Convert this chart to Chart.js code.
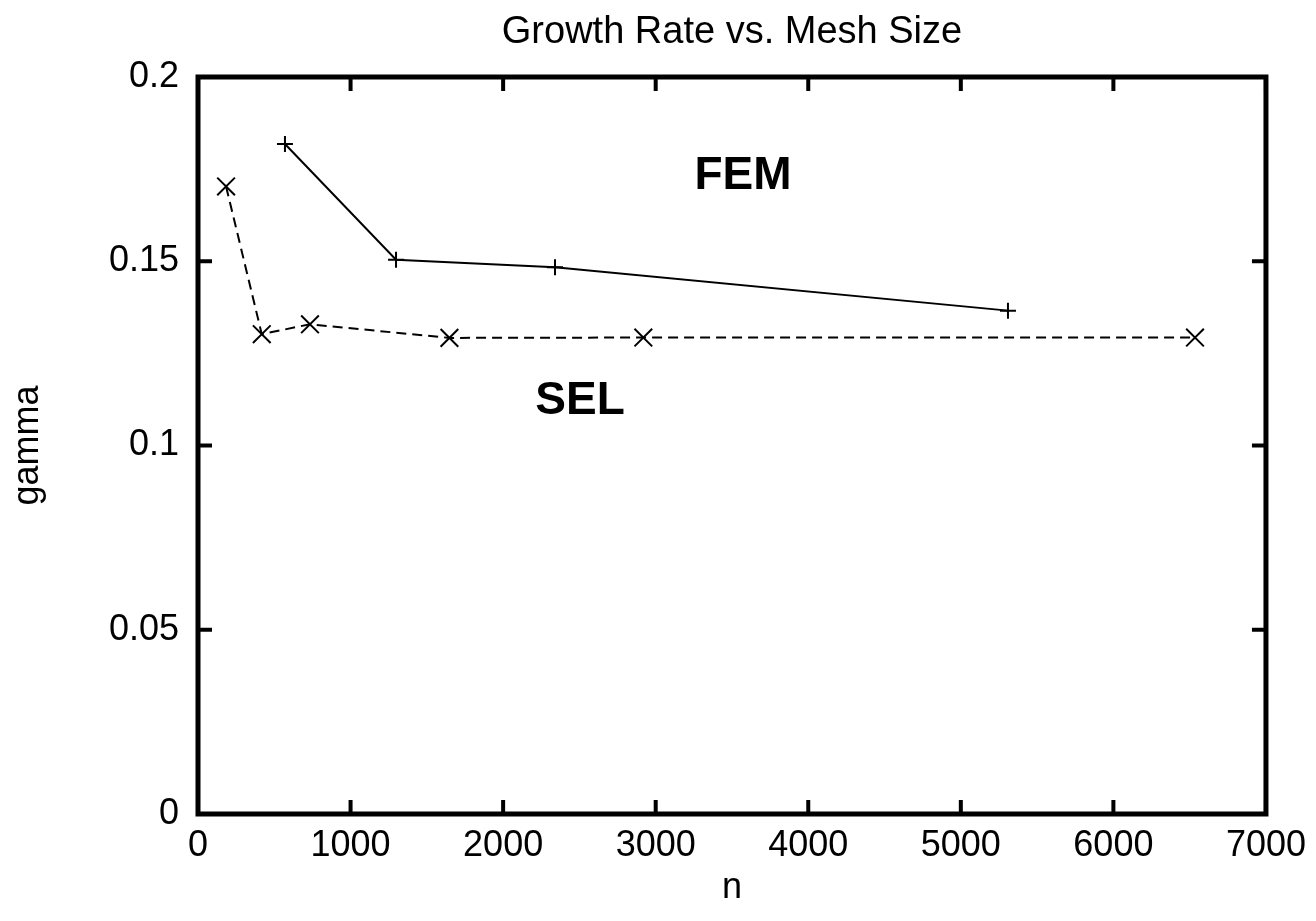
<!DOCTYPE html>
<html>
<head>
<meta charset="utf-8">
<title>Growth Rate vs. Mesh Size</title>
<script src="https://cdn.jsdelivr.net/npm/chart.js@4/dist/chart.umd.min.js"></script>
<style>
  html, body { margin: 0; padding: 0; background: #fff; }
  #wrap { width: 1316px; height: 921px; }
</style>
</head>
<body>
<div id="wrap"><canvas id="chart"></canvas></div>
<script>
// data
const femN = [570, 1298, 2340, 5309];
const femGamma = [0.1818, 0.1504, 0.1484, 0.1366];
const selN = [184, 418, 734, 1648, 2919, 6535];
const selGamma = [0.1703, 0.1302, 0.1329, 0.1292, 0.1293, 0.1293];
const xTicks = [0, 1000, 2000, 3000, 4000, 5000, 6000, 7000];
const yTicks = [0, 0.05, 0.1, 0.15, 0.2];
// text labels placed in data coordinates
const labels = [
  { text: "FEM", n: 3572, g: 0.1733 },
  { text: "SEL", n: 2504, g: 0.1122 }
];
const titleText = 'Growth Rate vs. Mesh Size';

const FONT = "'Liberation Sans', Arial, sans-serif";
const toPts = (xs, ys) => xs.map((x, i) => ({ x: x, y: ys[i] }));

// frame with inward ticks on all four sides, the title (centred on the plot) and the text labels
const framePlugin = {
  id: 'frame',
  afterDatasetsDraw(chart) {
    const ctx = chart.ctx;
    const a = chart.chartArea;
    const xs = chart.scales.x, ys = chart.scales.y;
    ctx.save();
    ctx.strokeStyle = '#000';
    ctx.lineWidth = 4;
    const tl = 14;
    xTicks.forEach(v => {
      const px = xs.getPixelForValue(v);
      ctx.beginPath();
      ctx.moveTo(px, a.bottom); ctx.lineTo(px, a.bottom - tl);
      ctx.moveTo(px, a.top); ctx.lineTo(px, a.top + tl);
      ctx.stroke();
    });
    yTicks.forEach(v => {
      const py = ys.getPixelForValue(v);
      ctx.beginPath();
      ctx.moveTo(a.left, py); ctx.lineTo(a.left + tl, py);
      ctx.moveTo(a.right, py); ctx.lineTo(a.right - tl, py);
      ctx.stroke();
    });
    ctx.lineWidth = 5;
    ctx.strokeRect(a.left, a.top, a.right - a.left, a.bottom - a.top);

    ctx.fillStyle = '#000';
    ctx.textAlign = 'center';
    ctx.textBaseline = 'middle';
    ctx.font = "38px " + FONT;
    ctx.fillText(titleText, (a.left + a.right) / 2, 33);

    ctx.font = "bold 46px " + FONT;
    labels.forEach(l => {
      ctx.fillText(l.text, xs.getPixelForValue(l.n), ys.getPixelForValue(l.g) + 1);
    });
    ctx.restore();
  }
};

new Chart(document.getElementById("chart"), {
  type: 'scatter',
  data: {
    datasets: [
      {
        label: 'FEM',
        data: toPts(femN, femGamma),
        showLine: true,
        borderColor: '#000',
        backgroundColor: '#000',
        borderWidth: 2,
        pointStyle: 'cross',
        pointRadius: 8,
        pointBorderWidth: 2,
        pointHoverRadius: 8
      },
      {
        label: 'SEL',
        data: toPts(selN, selGamma),
        showLine: true,
        borderColor: '#000',
        backgroundColor: '#000',
        borderWidth: 2,
        borderDash: [10, 6],
        pointStyle: 'crossRot',
        pointRadius: 12.5,
        pointBorderWidth: 2,
        pointHoverRadius: 12.5
      }
    ]
  },
  options: {
    responsive: true,
    maintainAspectRatio: false,
    animation: false,
    layout: { padding: { top: 77, left: 0, right: 48, bottom: 0 } },
    plugins: {
      legend: { display: false },
      tooltip: { enabled: false },
      title: { display: false }
    },
    scales: {
      x: {
        type: 'linear',
        min: 0, max: 7000,
        afterFit: s => { s.height = 107; },
        afterBuildTicks: s => { s.ticks = xTicks.map(v => ({ value: v })); },
        grid: { display: false, drawTicks: false },
        border: { display: false },
        ticks: {
          color: '#000', padding: 10, maxRotation: 0,
          font: { family: FONT, size: 36 },
          callback: v => String(v)
        },
        title: {
          display: true, text: 'n', color: '#000',
          font: { family: FONT, size: 36 },
          padding: { top: 0, bottom: 11 }
        }
      },
      y: {
        type: 'linear',
        min: 0, max: 0.2,
        afterFit: s => { s.width = 198; },
        afterBuildTicks: s => { s.ticks = yTicks.map(v => ({ value: v })); },
        grid: { display: false, drawTicks: false },
        border: { display: false },
        ticks: {
          color: '#000', padding: 19,
          font: { family: FONT, size: 36 },
          callback: v => String(v)
        },
        title: {
          display: true, text: 'gamma', color: '#000',
          font: { family: FONT, size: 36 },
          padding: { top: 6, bottom: 0 }
        }
      }
    }
  },
  plugins: [framePlugin]
});
</script>
</body>
</html>
